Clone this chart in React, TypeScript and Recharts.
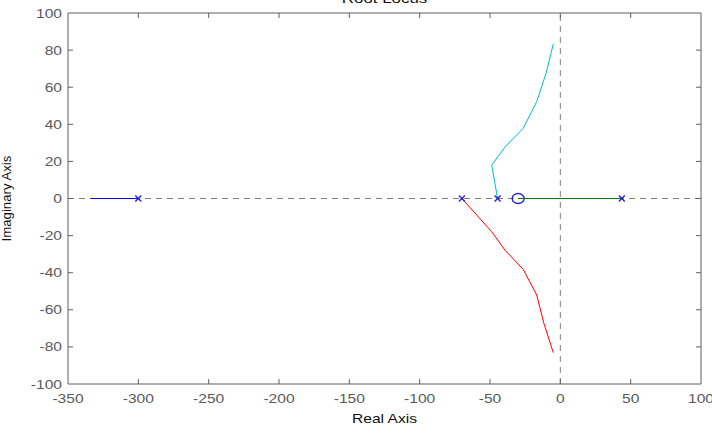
import React from "react";
import {
  ScatterChart,
  Scatter,
  XAxis,
  YAxis,
  ReferenceLine,
  Label,
} from "recharts";

const xTicks = [-350, -300, -250, -200, -150, -100, -50, 0, 50, 100];
const yTicks = [-100, -80, -60, -40, -20, 0, 20, 40, 60, 80, 100];

const blueBranchX = [-334, -300];
const blueBranchY = [0, 0];
const cyanBranchX = [-44.6, -48.8, -39.2, -26.4, -16.8, -10.2, -5.0];
const cyanBranchY = [0, 18, 27.9, 37.8, 52.2, 67.4, 83.3];
const redBranchX = [-70, -48.8, -39.4, -26.4, -16.8, -11.7, -5.0];
const redBranchY = [0, -17.9, -27.8, -38.2, -52, -67.3, -83.1];
const greenBranchX = [-30, 44];
const greenBranchY = [0, 0];
const polesX = [-300, -70, -44.6, 43.7];
const polesY = [0, 0, 0, 0];
const zerosX = [-30];
const zerosY = [0];

const zip = (xs: number[], ys: number[]) => xs.map((x, i) => ({ x, y: ys[i] }));

const blueData = zip(blueBranchX, blueBranchY);
const cyanData = zip(cyanBranchX, cyanBranchY);
const redData = zip(redBranchX, redBranchY);
const greenData = zip(greenBranchX, greenBranchY);
const poleData = zip(polesX, polesY);
const zeroData = zip(zerosX, zerosY);

const TICK_COLOR = "#5a5a5a";
const AXIS_COLOR = "#606060";
const FONT = "'Liberation Sans', Arial, sans-serif";
const SX = 1.3;

const NoShape = () => <g />;

const PoleShape = (props: any) => {
  const { cx, cy } = props;
  const s = 3;
  return (
    <g stroke="#1f1fd0" strokeWidth={1.3}>
      <line x1={cx - s} y1={cy - s} x2={cx + s} y2={cy + s} />
      <line x1={cx - s} y1={cy + s} x2={cx + s} y2={cy - s} />
    </g>
  );
};

const ZeroShape = (props: any) => {
  const { cx, cy } = props;
  return <ellipse cx={cx} cy={cy} rx={6} ry={5} fill="none" stroke="#1f1fd0" strokeWidth={1.3} />;
};

const BottomTick = (props: any) => {
  const { x, y, payload, index } = props;
  const edge = index === 0 || index === xTicks.length - 1;
  return (
    <g>
      {!edge && <line x1={x} y1={y} x2={x} y2={y - 5} stroke={AXIS_COLOR} />}
      <text
        transform={`translate(${x},${y + 19}) scale(${SX},1)`}
        textAnchor="middle"
        fill={TICK_COLOR}
        fontSize={12}
        fontFamily={FONT}
      >
        {payload.value}
      </text>
    </g>
  );
};

const LeftTick = (props: any) => {
  const { x, y, payload, index } = props;
  const edge = index === 0 || index === yTicks.length - 1;
  return (
    <g>
      {!edge && <line x1={x} y1={y} x2={x + 5} y2={y} stroke={AXIS_COLOR} />}
      <text
        transform={`translate(${x - 6},${y + 4.5}) scale(${SX},1)`}
        textAnchor="end"
        fill={TICK_COLOR}
        fontSize={12}
        fontFamily={FONT}
      >
        {payload.value}
      </text>
    </g>
  );
};

const TopTick = (props: any) => {
  const { x, y, index } = props;
  const edge = index === 0 || index === xTicks.length - 1;
  if (edge) return <g />;
  return <line x1={x} y1={y} x2={x} y2={y + 5} stroke={AXIS_COLOR} />;
};

const RightTick = (props: any) => {
  const { x, y, index } = props;
  const edge = index === 0 || index === yTicks.length - 1;
  if (edge) return <g />;
  return <line x1={x} y1={y} x2={x - 5} y2={y} stroke={AXIS_COLOR} />;
};

export default function App() {
  return (
    <div style={{ position: "absolute", left: 0, top: 0, width: 712, height: 440, background: "#fff" }}>
      <ScatterChart width={712} height={440} margin={{ top: 12, right: 10, bottom: 0, left: 0 }}>
        <XAxis
          xAxisId="b"
          dataKey="x"
          type="number"
          domain={[-350, 100]}
          ticks={xTicks}
          interval={0}
          allowDataOverflow
          height={56}
          tickSize={0}
          tickMargin={0}
          tick={<BottomTick />}
          axisLine={{ stroke: AXIS_COLOR }}
          tickLine={false}
        >
          <Label
            content={(p: any) => {
              const vb = p.viewBox || {};
              return (
                <text
                  transform={`translate(${vb.x + vb.width / 2},${vb.y + 39}) scale(${SX},1)`}
                  textAnchor="middle"
                  fontSize={12}
                  fontFamily={FONT}
                  fill="#111"
                >
                  Real Axis
                </text>
              );
            }}
          />
        </XAxis>
        <XAxis
          xAxisId="t"
          orientation="top"
          dataKey="x"
          type="number"
          domain={[-350, 100]}
          ticks={xTicks}
          interval={0}
          allowDataOverflow
          height={1}
          tickSize={0}
          tickMargin={0}
          tick={<TopTick />}
          axisLine={{ stroke: AXIS_COLOR }}
          tickLine={false}
        >
          <Label
            content={(p: any) => {
              const vb = p.viewBox || {};
              return (
                <text
                  transform={`translate(${vb.x + vb.width / 2},${vb.y - 9}) scale(${SX},1)`}
                  textAnchor="middle"
                  fontSize={13}
                  fontFamily={FONT}
                  fill="#111"
                >
                  Root Locus
                </text>
              );
            }}
          />
        </XAxis>
        <YAxis
          yAxisId="l"
          dataKey="y"
          type="number"
          domain={[-100, 100]}
          ticks={yTicks}
          interval={0}
          allowDataOverflow
          width={68}
          tickSize={0}
          tickMargin={0}
          tick={<LeftTick />}
          axisLine={{ stroke: AXIS_COLOR }}
          tickLine={false}
        >
          <Label
            content={(p: any) => {
              const vb = p.viewBox || {};
              const cy = vb.y + vb.height / 2;
              return (
                <text
                  transform={`translate(11,${cy}) rotate(-90) scale(1.1,1)`}
                  textAnchor="middle"
                  fontSize={12}
                  fontFamily={FONT}
                  fill="#111"
                >
                  Imaginary Axis
                </text>
              );
            }}
          />
        </YAxis>
        <YAxis
          yAxisId="r"
          orientation="right"
          dataKey="y"
          type="number"
          domain={[-100, 100]}
          ticks={yTicks}
          interval={0}
          allowDataOverflow
          width={1}
          tickSize={0}
          tickMargin={0}
          tick={<RightTick />}
          axisLine={{ stroke: AXIS_COLOR }}
          tickLine={false}
        />
        <ReferenceLine xAxisId="b" yAxisId="l" y={0} stroke="#808080" strokeDasharray="6 5" />
        <ReferenceLine xAxisId="b" yAxisId="l" x={0} stroke="#808080" strokeDasharray="6 5" />
        <Scatter xAxisId="t" yAxisId="r" data={poleData} fill="none" shape={NoShape} isAnimationActive={false} />
        <Scatter xAxisId="b" yAxisId="l" data={blueData} fill="#0000ff" stroke="#0000ff"
          line={{ stroke: "#0000ff", strokeWidth: 1 }} lineType="joint" shape={NoShape} isAnimationActive={false} />
        <Scatter xAxisId="b" yAxisId="l" data={cyanData} fill="#00bfbf" stroke="#00bfbf"
          line={{ stroke: "#00bfbf", strokeWidth: 1 }} lineType="joint" shape={NoShape} isAnimationActive={false} />
        <Scatter xAxisId="b" yAxisId="l" data={redData} fill="#ff0000" stroke="#ff0000"
          line={{ stroke: "#ff0000", strokeWidth: 1 }} lineType="joint" shape={NoShape} isAnimationActive={false} />
        <Scatter xAxisId="b" yAxisId="l" data={greenData} fill="#008000" stroke="#008000"
          line={{ stroke: "#008000", strokeWidth: 1.2 }} lineType="joint" shape={NoShape} isAnimationActive={false} />
        <Scatter xAxisId="b" yAxisId="l" data={poleData} fill="#1f1fd0" shape={PoleShape} isAnimationActive={false} />
        <Scatter xAxisId="b" yAxisId="l" data={zeroData} fill="#1f1fd0" shape={ZeroShape} isAnimationActive={false} />
      </ScatterChart>
    </div>
  );
}
